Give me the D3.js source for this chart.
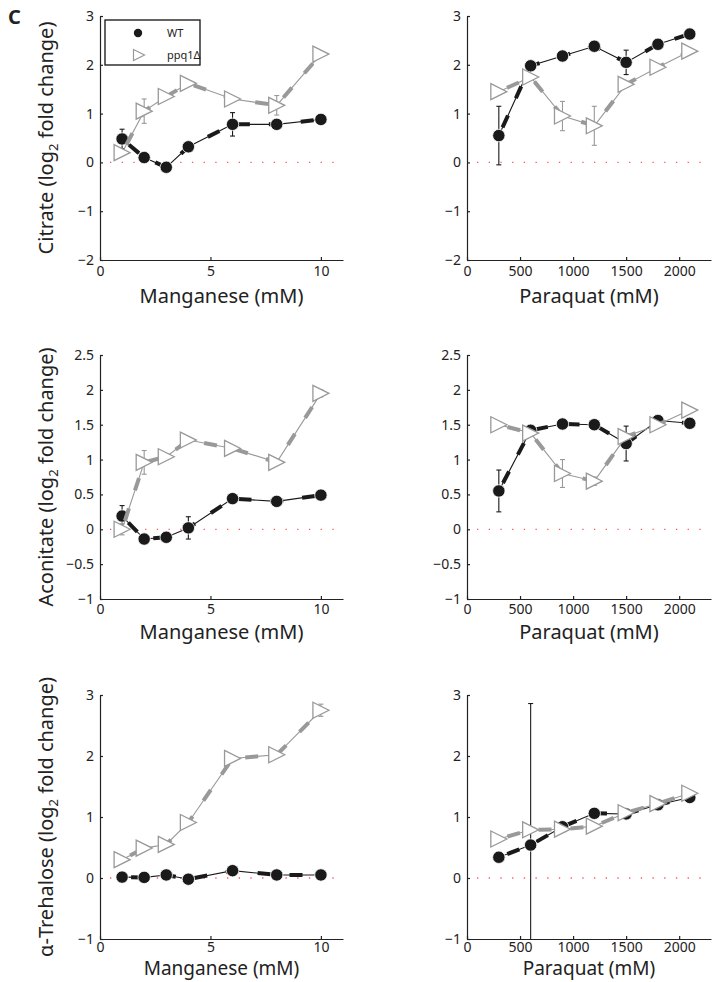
<!DOCTYPE html>
<html>
<head>
<meta charset="utf-8">
<script src="https://cdn.jsdelivr.net/npm/d3@7"></script>
<style>
  body { margin: 0; background: #fff; }
  svg { display: block; font-family: "Noto Sans", "Open Sans", sans-serif; }
</style>
</head>
<body>
<div id="chart"></div>
<script>
// doses
const mnDose = [1, 2, 3, 4, 6, 8, 10];
const pqDose = [300, 600, 900, 1200, 1500, 1800, 2100];

// Citrate
const citMnWT = [0.48, 0.1, -0.1, 0.32, 0.78, 0.78, 0.88];
const citMnWTErr = [0.2, 0.04, 0.04, 0.05, 0.24, 0.05, 0.04];
const citMnPpq = [0.2, 1.05, 1.35, 1.62, 1.3, 1.17, 2.22];
const citMnPpqErr = [0.05, 0.25, 0.05, 0.05, 0.05, 0.2, 0.05];
const citPqWT = [0.55, 1.98, 2.18, 2.38, 2.05, 2.42, 2.63];
const citPqWTErr = [0.6, 0.05, 0.05, 0.05, 0.25, 0.05, 0.05];
const citPqPpq = [1.45, 1.75, 0.95, 0.75, 1.6, 1.95, 2.28];
const citPqPpqErr = [0.05, 0.05, 0.3, 0.4, 0.05, 0.05, 0.05];

// Aconitate
const acoMnWT = [0.19, -0.14, -0.115, 0.02, 0.44, 0.4, 0.49];
const acoMnWTErr = [0.15, 0.03, 0.03, 0.16, 0.05, 0.05, 0.03];
const acoMnPpq = [0.0, 0.96, 1.04, 1.28, 1.16, 0.96, 1.95];
const acoMnPpqErr = [0.08, 0.17, 0.04, 0.04, 0.04, 0.04, 0.05];
const acoPqWT = [0.55, 1.42, 1.51, 1.5, 1.23, 1.56, 1.52];
const acoPqWTErr = [0.3, 0.05, 0.04, 0.04, 0.25, 0.04, 0.06];
const acoPqPpq = [1.5, 1.38, 0.8, 0.69, 1.33, 1.5, 1.71];
const acoPqPpqErr = [0.04, 0.04, 0.2, 0.06, 0.04, 0.04, 0.04];

// alpha-Trehalose
const treMnWT = [0.015, 0.01, 0.05, -0.02, 0.12, 0.05, 0.05];
const treMnWTErr = [0.03, 0.03, 0.03, 0.03, 0.03, 0.03, 0.03];
const treMnPpq = [0.3, 0.49, 0.55, 0.91, 1.96, 2.02, 2.75];
const treMnPpqErr = [0.03, 0.03, 0.03, 0.03, 0.03, 0.03, 0.1];
const trePqWT = [0.34, 0.54, 0.84, 1.06, 1.05, 1.2, 1.32];
const trePqWTErr = [0.03, 2.32, 0.03, 0.03, 0.03, 0.03, 0.03];
const trePqPpq = [0.64, 0.79, 0.8, 0.85, 1.07, 1.22, 1.39];
const trePqPpqErr = [0.03, 0.03, 0.03, 0.03, 0.03, 0.03, 0.03];

const seriesNames = ["WT", "ppq1\u0394"];

const width = 714, height = 982;
const rowY = [[16, 260], [355, 599], [695, 939]];
const titleOff = [43, 40, 36];
const tickPad = [6, 5, 3];
const colX = [[100, 343], [467, 711]];
const wtColor = "#1a1a1a", ppqColor = "#999999";

const panels = [
  {row: 0, col: 0, name: "Citrate", yDom: [-2, 3], yTicks: [-2, -1, 0, 1, 2, 3], x: mnDose, wt: citMnWT, wtE: citMnWTErr, ppq: citMnPpq, ppqE: citMnPpqErr},
  {row: 0, col: 1, name: null, yDom: [-2, 3], yTicks: [-2, -1, 0, 1, 2, 3], x: pqDose, wt: citPqWT, wtE: citPqWTErr, ppq: citPqPpq, ppqE: citPqPpqErr},
  {row: 1, col: 0, name: "Aconitate", yDom: [-1, 2.5], yTicks: [-1, -0.5, 0, 0.5, 1, 1.5, 2, 2.5], x: mnDose, wt: acoMnWT, wtE: acoMnWTErr, ppq: acoMnPpq, ppqE: acoMnPpqErr},
  {row: 1, col: 1, name: null, yDom: [-1, 2.5], yTicks: [-1, -0.5, 0, 0.5, 1, 1.5, 2, 2.5], x: pqDose, wt: acoPqWT, wtE: acoPqWTErr, ppq: acoPqPpq, ppqE: acoPqPpqErr},
  {row: 2, col: 0, name: "\u03b1-Trehalose", yDom: [-1, 3], yTicks: [-1, 0, 1, 2, 3], x: mnDose, wt: treMnWT, wtE: treMnWTErr, ppq: treMnPpq, ppqE: treMnPpqErr},
  {row: 2, col: 1, name: null, yDom: [-1, 3], yTicks: [-1, 0, 1, 2, 3], x: pqDose, wt: trePqWT, wtE: trePqWTErr, ppq: trePqPpq, ppqE: trePqPpqErr}
];

const svg = d3.select("#chart").append("svg")
    .attr("width", width)
    .attr("height", height);

svg.append("rect").attr("width", width).attr("height", height).attr("fill", "#fff");

const fmt = d => String(d).replace("-", "\u2212");

// right-pointing triangle, centred on its bounding box
function triPath(w, h) {
  return `M${-w/2},${-h/2}L${w/2},0L${-w/2},${h/2}Z`;
}

panels.forEach((p, i) => {
  const x = d3.scaleLinear()
      .domain(p.col === 0 ? [0, 11] : [0, 2300])
      .range(colX[p.col]);
  const y = d3.scaleLinear().domain(p.yDom).range([rowY[p.row][1], rowY[p.row][0]]);
  const g = svg.append("g");
  const last = p.row === 2;

  g.append("clipPath").attr("id", "clip" + i)
    .append("rect")
      .attr("x", x.range()[0]).attr("y", y.range()[1])
      .attr("width", x.range()[1] - x.range()[0])
      .attr("height", y.range()[0] - y.range()[1]);

  // zero line
  g.append("line")
      .attr("x1", x(0) + 10).attr("x2", x.range()[1])
      .attr("y1", y(0)).attr("y2", y(0))
      .attr("stroke", "#ff5555")
      .attr("stroke-width", 1.3)
      .attr("stroke-dasharray", "1.3 10.4");

  const xAxis = d3.axisBottom(x)
      .tickValues(p.col === 0 ? [0, 5, 10] : [0, 500, 1000, 1500, 2000])
      .tickSizeInner(-3).tickSizeOuter(0).tickPadding(tickPad[p.row])
      .tickFormat(fmt);
  const yAxis = d3.axisLeft(y)
      .tickValues(p.yTicks)
      .tickSizeInner(-3).tickSizeOuter(0).tickPadding(6)
      .tickFormat(fmt);

  const gx = g.append("g").attr("transform", `translate(0,${y.range()[0]})`).call(xAxis);
  const gy = g.append("g").attr("transform", `translate(${x.range()[0]},0)`).call(yAxis);
  [gx, gy].forEach(a => {
    a.selectAll("path, line").attr("stroke", "#222").attr("stroke-width", 1.2);
    a.selectAll("text").attr("font-size", 14).attr("fill", "#222")
      .attr("font-family", "'Noto Sans', sans-serif");
  });
  gx.selectAll("text").attr("dy", "0.72em");

  // x title
  g.append("text")
      .attr("x", (x.range()[0] + x.range()[1]) / 2)
      .attr("y", y.range()[0] + titleOff[p.row])
      .attr("text-anchor", "middle")
      .attr("font-size", last ? 19 : 20)
      .attr("fill", "#222")
      .text(p.col === 0 ? "Manganese (mM)" : "Paraquat (mM)");

  // y title
  if (p.name) {
    const t = g.append("text")
        .attr("transform", `translate(53,${(y.range()[0] + y.range()[1]) / 2}) rotate(-90)`)
        .attr("text-anchor", "middle")
        .attr("font-size", 20)
        .attr("fill", "#222");
    t.append("tspan").text(p.name + " (log");
    t.append("tspan").attr("font-size", 13).attr("dy", 5).text("2");
    t.append("tspan").attr("dy", -5).text(" fold change)");
  }

  const series = [
    {vals: p.wt, err: p.wtE, color: wtColor, kind: "wt"},
    {vals: p.ppq, err: p.ppqE, color: ppqColor, kind: "ppq"}
  ];

  series.forEach(s => {
    const pts = p.x.map((d, j) => ({x: d, y: s.vals[j], e: s.err[j]}));
    const line = d3.line().x(d => x(d.x)).y(d => y(d.y));

    // error bars
    const eb = g.append("g").attr("clip-path", `url(#clip${i})`)
        .attr("stroke", s.color).attr("stroke-width", 1.1);
    pts.forEach(d => {
      eb.append("line").attr("x1", x(d.x)).attr("x2", x(d.x))
        .attr("y1", y(d.y - d.e)).attr("y2", y(d.y + d.e));
      [d.y - d.e, d.y + d.e].forEach(v => {
        eb.append("line").attr("x1", x(d.x) - 2.5).attr("x2", x(d.x) + 2.5)
          .attr("y1", y(v)).attr("y2", y(v));
      });
    });

    // thin line + thick dashes
    g.append("path").datum(pts)
        .attr("d", line).attr("fill", "none")
        .attr("stroke", s.color).attr("stroke-width", 1.1);
    g.append("path").datum(pts)
        .attr("d", line).attr("fill", "none")
        .attr("stroke", s.color).attr("stroke-width", 4)
        .attr("stroke-dasharray", "13 19")
        .attr("stroke-dashoffset", -9);

    if (s.kind === "wt") {
      g.selectAll(null).data(pts).join("circle")
          .attr("cx", d => x(d.x)).attr("cy", d => y(d.y))
          .attr("r", 6.2)
          .attr("fill", wtColor)
          .attr("stroke", "#fff").attr("stroke-width", 0.8);
    } else {
      g.selectAll(null).data(pts).join("path")
          .attr("transform", d => `translate(${x(d.x)},${y(d.y)})`)
          .attr("d", triPath(16, 16))
          .attr("fill", "#fff")
          .attr("stroke", ppqColor).attr("stroke-width", 1.3);
    }
  });
});

// panel letter
svg.append("text")
    .attr("x", 8).attr("y", 24)
    .attr("font-size", 20).attr("font-weight", "bold")
    .attr("fill", "#222")
    .text("C");

// legend
const leg = svg.append("g");
leg.append("rect")
    .attr("x", 105).attr("y", 20).attr("width", 95).attr("height", 45)
    .attr("fill", "#fff").attr("stroke", "#111").attr("stroke-width", 1.3);
leg.append("circle").attr("cx", 138).attr("cy", 33).attr("r", 4.2).attr("fill", wtColor);
leg.append("path").attr("transform", "translate(139,55)")
    .attr("d", triPath(11, 11)).attr("fill", "#fff")
    .attr("stroke", ppqColor).attr("stroke-width", 1.2);
leg.selectAll(null).data(seriesNames).join("text")
    .attr("x", 167).attr("y", (d, k) => 37 + k * 22)
    .attr("font-size", 11).attr("fill", "#222")
    .text(d => d);
</script>
</body>
</html>
